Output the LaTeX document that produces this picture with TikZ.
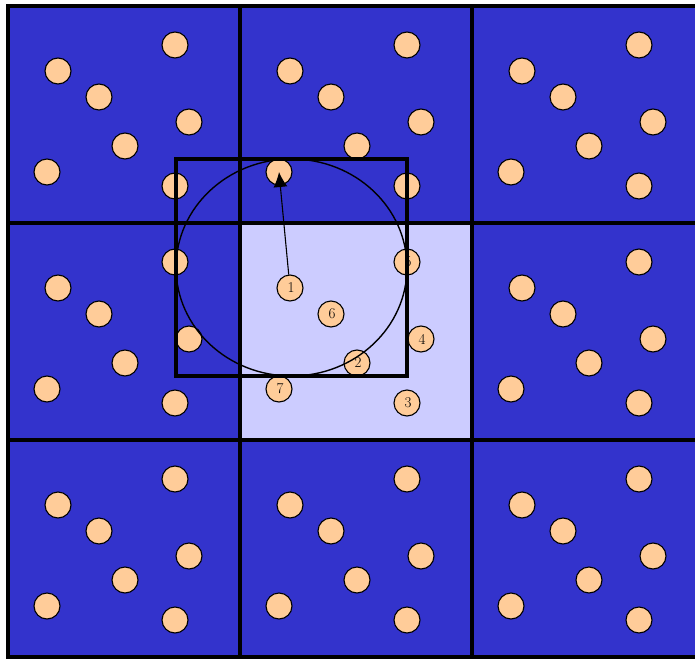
\documentclass[tikz,border=0pt]{standalone}
\usepackage{tikz}
\usetikzlibrary{arrows.meta,shapes,positioning,calc}
\definecolor{cellblue}{RGB}{51,51,204}
\definecolor{celllight}{RGB}{204,204,255}
\definecolor{partcol}{RGB}{255,204,153}

\begin{document}
\begin{tikzpicture}[x=1pt,y=-1pt,
  cell/.style={draw,line width=3.2pt,fill=cellblue},
  home/.style={cell,fill=celllight},
  part/.style={circle,draw,line width=1.1pt,fill=partcol,minimum size=26pt,
               inner sep=0pt,font=\fontsize{15}{15}\selectfont},
  cutoff/.style={draw,line width=3.2pt}]
  \useasboundingbox[fill=white] (0,0) rectangle (695,658);
  % periodic images of the box
  \foreach \i in {0,1,2}
    \foreach \j in {0,1,2}
      \path[cell] (8+232*\i,6+217*\j) rectangle ++(232,217);
  \path[home] (240,223) rectangle ++(232,217);
  % particles, numbered in the central box only
  \foreach \i in {0,1,2}
    \foreach \j in {0,1,2}
      \foreach \k/\px/\py in {1/50/65,2/117/140,3/167/180,4/181/116,
                              5/167/39,6/91/91,7/39/166}
        \node[part] (p\i\j-\k) at (8+232*\i+\px,6+217*\j+\py)
          {\ifnum\i\j=11 \hspace{2pt}\k\fi};
  % cut-off box and sphere round particle 1
  \path[cutoff] (176,159) rectangle (407,376);
  \draw[line width=1.4pt] (291.5,267.5) ellipse (115.5 and 108.5);
  \draw[line width=1.1pt,-{Latex[length=15pt,width=14pt]}] (p11-1) -- (p10-7.center);
\end{tikzpicture}
\end{document}
